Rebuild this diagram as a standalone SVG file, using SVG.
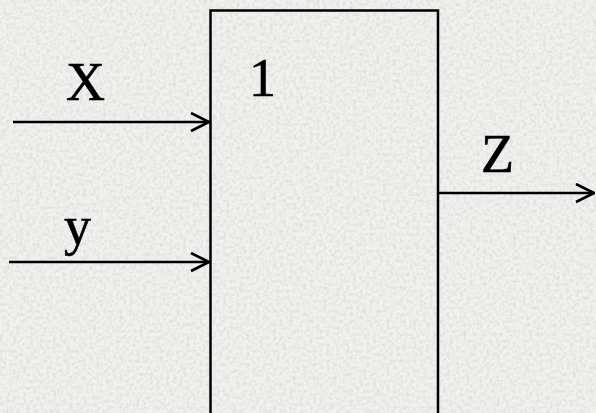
<svg xmlns="http://www.w3.org/2000/svg" width="596" height="413" viewBox="0 0 596 413">
  <defs>
    <filter id="granite" x="0" y="0" width="100%" height="100%">
      <feTurbulence type="fractalNoise" baseFrequency="0.3" numOctaves="2" seed="7" result="n"/>
      <feColorMatrix in="n" type="matrix" values="0 0 0 0 0.6  0 0 0 0 0.6  0 0 0 0 0.58  0 0 0 -2.2 1.35" result="spots"/>
      <feComposite in="spots" in2="SourceGraphic" operator="in"/>
    </filter>
    <marker id="open" markerWidth="20" markerHeight="22" refX="19" refY="10" orient="auto" markerUnits="userSpaceOnUse">
      <path d="M1,1 L19,10 L1,19" fill="none" stroke="#000" stroke-width="2.6"/>
    </marker>
  </defs>
  <style>
    .lbl { font-family: "Liberation Serif", "Times New Roman", serif; font-size: 54px; fill: #000; stroke: #000; stroke-width: 0.6; }
    .line { stroke: #000; stroke-width: 2.5; fill: none; }
  </style>
  <rect width="596" height="413" fill="#f1f1ef"/>
  <rect width="596" height="413" fill="#f1f1ef" filter="url(#granite)" opacity="0.5"/>
  <g id="block">
    <path class="line" d="M210.5,415 V10.5 H438 V415"/>
    <text class="lbl" x="249" y="96">1</text>
  </g>
  <g id="labels">
    <text class="lbl" x="66" y="100">X</text>
    <text class="lbl" x="64" y="244">y</text>
    <text class="lbl" x="481" y="172">Z</text>
  </g>
  <g id="connectors">
    <line class="line" x1="13" y1="122" x2="209" y2="122" marker-end="url(#open)"/>
    <line class="line" x1="9" y1="262" x2="209" y2="262" marker-end="url(#open)"/>
    <line class="line" x1="438" y1="193" x2="594" y2="193" marker-end="url(#open)"/>
  </g>
</svg>
